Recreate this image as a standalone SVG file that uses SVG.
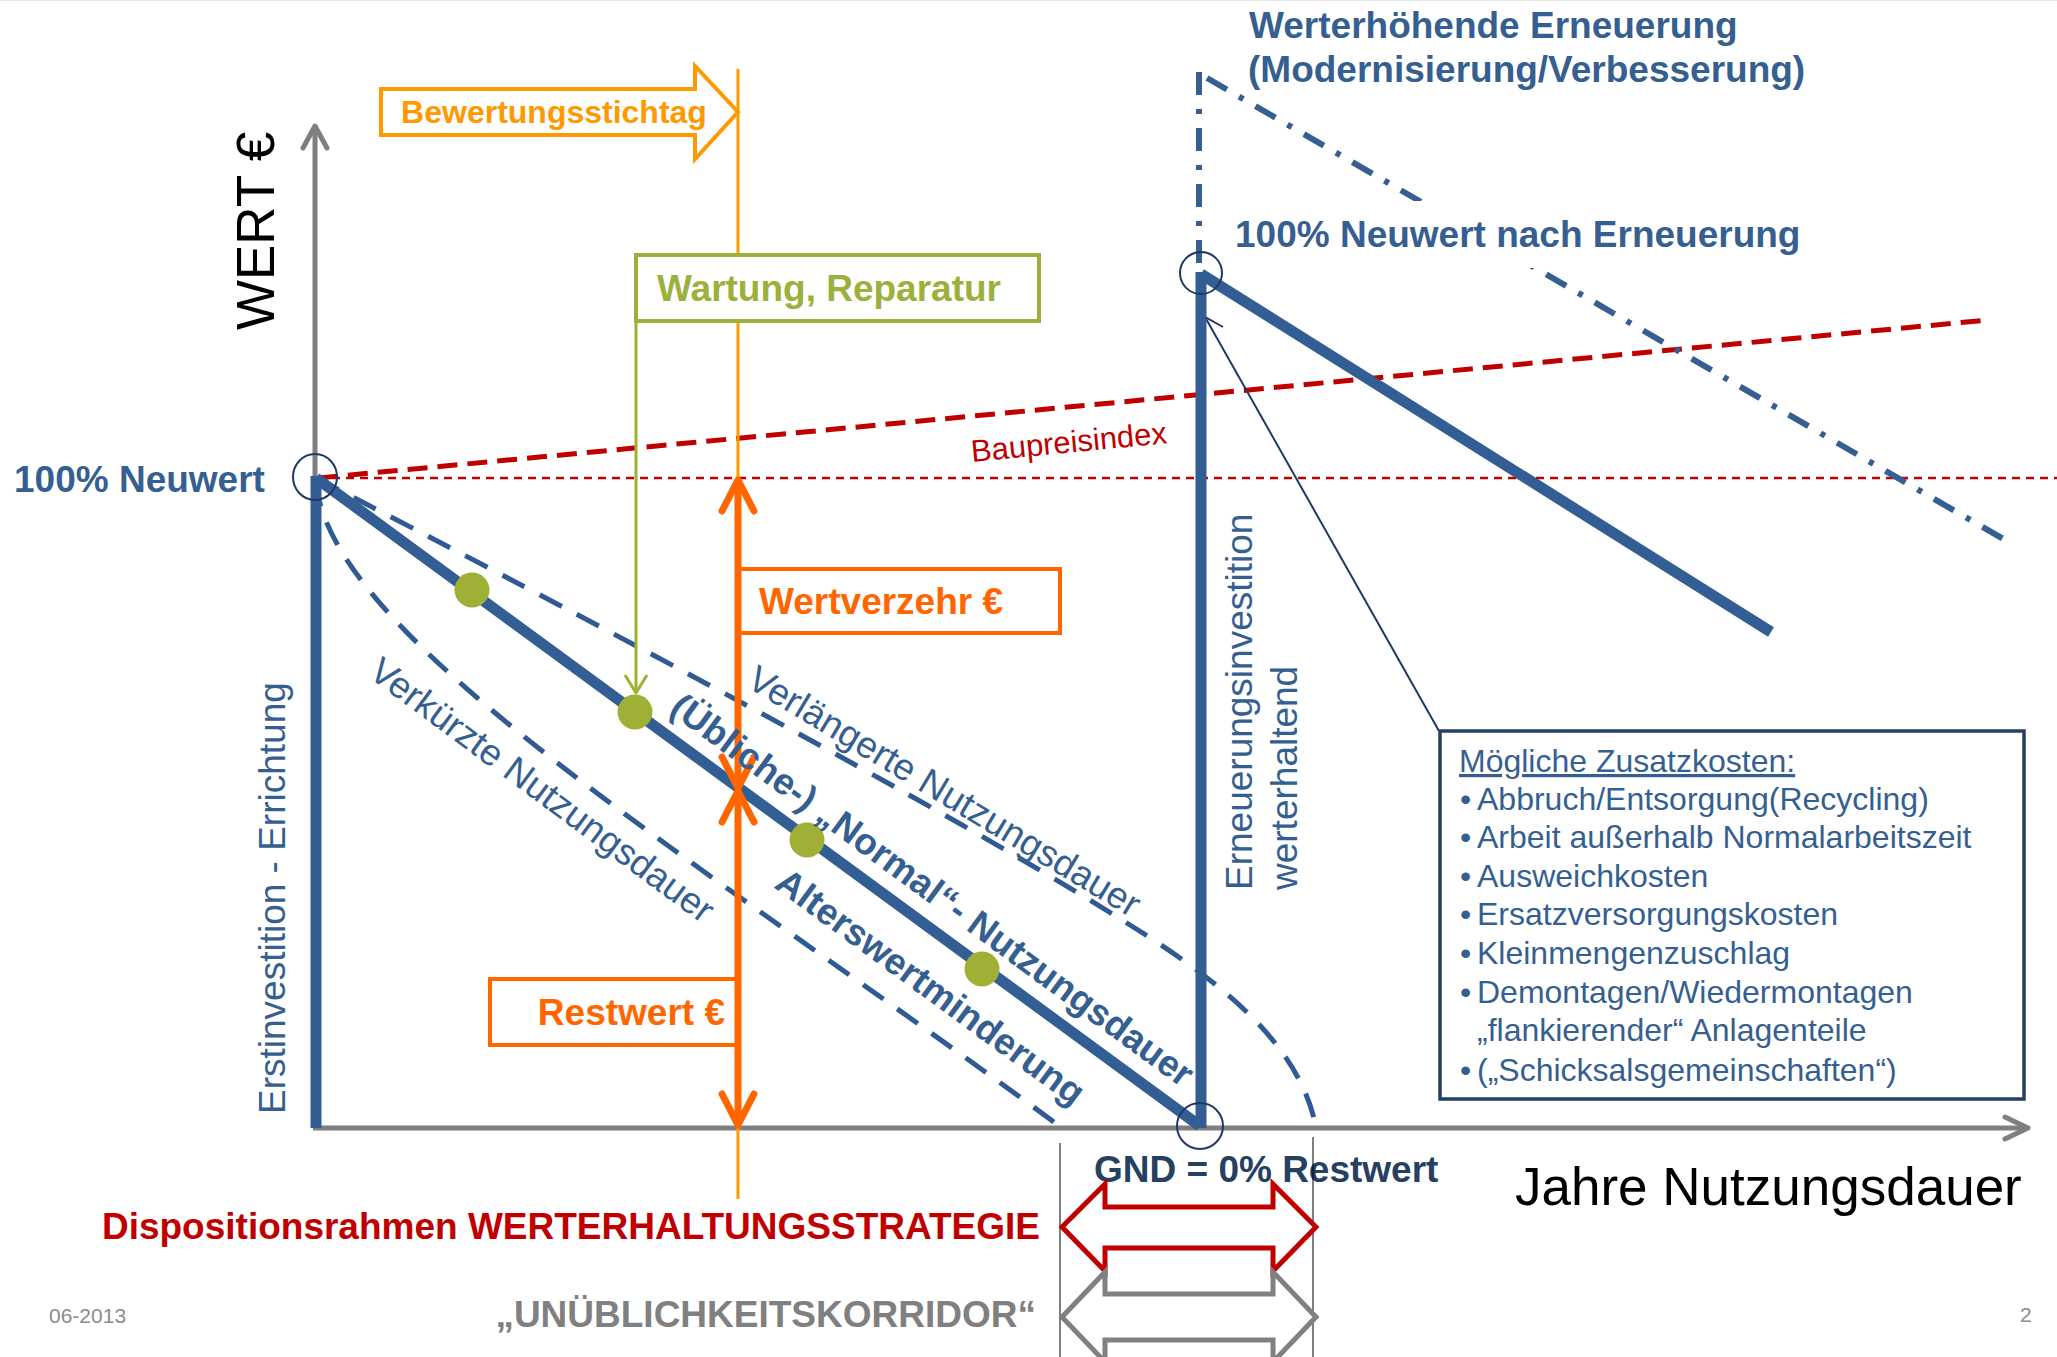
<svg xmlns="http://www.w3.org/2000/svg" width="2057" height="1357" viewBox="0 0 2057 1357">
<defs>
<style>
text{font-family:"Liberation Sans",Arial,sans-serif}
.b{font-weight:bold}
.blue{fill:#365F91}
.t37{font-size:37px}
.axis{stroke:#7F7F7F;stroke-width:5;fill:none}
.ah{fill:none;stroke-linecap:round;stroke-linejoin:round}
.bl{stroke:#335E93;fill:none;stroke-width:11}
.dash{stroke:#2F5A94;fill:none;stroke-width:5;stroke-dasharray:25 17}
.dd{stroke:#365F91;fill:none;stroke-width:6;stroke-dasharray:23 14 5 14}
.ring{stroke:#1F3864;stroke-width:2;fill:none}
.dot{fill:#A0B036}
.or{stroke:#FF6600;stroke-width:7;fill:none;stroke-linecap:round;stroke-linejoin:round}
.box{font-size:32px;fill:#365F91}
</style>
</defs>
<rect width="2057" height="1357" fill="#ffffff"/>
<line x1="0" y1="0.5" x2="2057" y2="0.5" stroke="#E6E6E6" stroke-width="1"/>

<g id="axes">
<path class="axis" d="M315,1128 V128"/>
<path class="axis ah" d="M303,148 L315,126 L327,148"/>
<path class="axis" d="M313,1128 H2026"/>
<path class="axis ah" d="M2005,1117 L2028,1128 L2005,1139"/>
</g>

<g id="baupreisindex">
<path d="M318,478 L1988,320" stroke="#C00000" stroke-width="5" stroke-dasharray="20 10" fill="none"/>
<path d="M318,478 H2057" stroke="#C00000" stroke-width="2.5" stroke-dasharray="8 6" fill="none"/>
<text transform="translate(972,462) rotate(-5.5)" font-size="31" fill="#C00000">Baupreisindex</text>
</g>

<g id="stichtag">
<path d="M738,69 V1199" stroke="#FF9900" stroke-width="3"/>
<polygon points="381,89 695,89 695,66 738,112 695,159 695,135 381,135" fill="#ffffff" stroke="#FF9900" stroke-width="4"/>
<text x="554" y="123" text-anchor="middle" class="b" font-size="32" fill="#FF9900">Bewertungsstichtag</text>
</g>

<g id="wartung">
<rect x="636" y="255" width="403" height="66" fill="#ffffff" stroke="#9BB13B" stroke-width="4"/>
<text x="657" y="301" class="b t37" fill="#9BB13B">Wartung, Reparatur</text>
</g>

<g id="connectors">
<path class="dash" d="M316,478 Q900,780 1130,925 C1210,975 1300,1040 1316,1128"/>
<path class="dash" d="M316,482 C330,640 700,860 1062,1128"/>
<path d="M636,321 V692" stroke="#9DB135" stroke-width="3" fill="none"/>
<path d="M625,675 L636,693 L647,675" stroke="#9DB135" stroke-width="3" fill="none" stroke-linejoin="round"/>
<path class="dd" d="M1199,72 V270"/>
<path class="dd" d="M1207,78 L2005,540"/>
<path d="M1439,731 L1205,317" stroke="#1F3864" stroke-width="2" fill="none"/>
<path d="M1223,327 L1205,317 L1205,337" stroke="#1F3864" stroke-width="2" fill="none"/>
</g>

<g id="nutzung">
<path class="bl" d="M316,478 L1200,1126"/>
<path class="bl" d="M316,476 V1128" stroke-width="12" stroke="#2F5A96"/>
<path class="bl" d="M1201,272 V1128" stroke="#2F5A96"/>
<path class="bl" d="M1201,274 L1771,632"/>
</g>

<g id="neuwert-erneuerung">
<rect x="1226" y="201" width="590" height="67" fill="#ffffff"/>
<text x="1235" y="247" class="b t37 blue">100% Neuwert nach Erneuerung</text>
</g>

<g id="rings">
<ellipse class="ring" cx="315" cy="477" rx="22" ry="23"/>
<circle class="ring" cx="1201" cy="273" r="21"/>
<circle class="ring" cx="1200" cy="1126" r="23"/>
</g>

<g id="wertverzehr">
<rect x="739" y="569" width="321" height="64" fill="#ffffff" stroke="#FF6600" stroke-width="4"/>
<text x="759" y="614" class="b t37" fill="#FF6600">Wertverzehr €</text>
</g>
<g id="restwert">
<rect x="490" y="979" width="249" height="66" fill="#ffffff" stroke="#FF6600" stroke-width="4"/>
<text x="725" y="1025" text-anchor="end" class="b t37" fill="#FF6600">Restwert €</text>
</g>
<g id="wert-pfeile">
<path class="or" d="M738,482 V786"/>
<path class="or" d="M738,792 V1124"/>
<path class="or" d="M722,511 L738,480 L754,511"/>
<path class="or" d="M722,757 L738,788 L754,757"/>
<path class="or" d="M722,822 L738,791 L754,822"/>
<path class="or" d="M722,1094 L738,1125 L754,1094"/>
</g>

<g id="punkte">
<circle class="dot" cx="472" cy="590" r="17.5"/>
<circle class="dot" cx="635" cy="712" r="17.5"/>
<circle class="dot" cx="807" cy="840" r="17.5"/>
<circle class="dot" cx="982" cy="969" r="17.5"/>
</g>

<g id="labels">
<text transform="translate(668,712) rotate(36.2)" class="b t37 blue">(Übliche-) „Normal“- Nutzungsdauer</text>
<text transform="translate(773,887) rotate(36.2)" class="b t37 blue">Alterswertminderung</text>
<text transform="translate(745,686) rotate(31)" class="t37 blue">Verlängerte Nutzungsdauer</text>
<text transform="translate(367,676) rotate(36.5)" class="t37 blue">Verkürzte Nutzungsdauer</text>
<text transform="translate(285,1114) rotate(-90)" class="t37 blue">Erstinvestition - Errichtung</text>
<text transform="translate(1252,890) rotate(-90)" class="t37 blue">Erneuerungsinvestition</text>
<text transform="translate(1297,890) rotate(-90)" class="t37 blue">werterhaltend</text>
<text transform="translate(274,330) rotate(-90)" font-size="53" fill="#000000">WERT €</text>
<text x="14" y="492" class="b t37 blue">100% Neuwert</text>
<text x="1249" y="38" class="b t37 blue">Werterhöhende Erneuerung</text>
<text x="1248" y="82" class="b t37 blue">(Modernisierung/Verbesserung)</text>
<text x="1094" y="1182" class="b t37" fill="#254061">GND = 0% Restwert</text>
<text x="1515" y="1205" font-size="53" fill="#000000">Jahre Nutzungsdauer</text>
</g>

<g id="zusatzkosten">
<rect x="1440" y="731" width="584" height="368" fill="#ffffff" stroke="#243F60" stroke-width="3.5"/>
<text x="1459" y="772" class="box" text-decoration="underline">Mögliche Zusatzkosten:</text>
<text x="1460" y="810" class="box">•</text><text x="1477" y="810" class="box">Abbruch/Entsorgung(Recycling)</text>
<text x="1460" y="848" class="box">•</text><text x="1477" y="848" class="box">Arbeit außerhalb Normalarbeitszeit</text>
<text x="1460" y="887" class="box">•</text><text x="1477" y="887" class="box">Ausweichkosten</text>
<text x="1460" y="925" class="box">•</text><text x="1477" y="925" class="box">Ersatzversorgungskosten</text>
<text x="1460" y="964" class="box">•</text><text x="1477" y="964" class="box">Kleinmengenzuschlag</text>
<text x="1460" y="1003" class="box">•</text><text x="1477" y="1003" class="box">Demontagen/Wiedermontagen</text>
<text x="1477" y="1041" class="box">„flankierender“ Anlagenteile</text>
<text x="1460" y="1081" class="box">•</text><text x="1477" y="1081" class="box">(„Schicksalsgemeinschaften“)</text>
</g>

<g id="korridor">
<path d="M1060,1143 V1357 M1313,1137 V1357" stroke="#000000" stroke-width="1" fill="none"/>
<polygon points="1062,1227 1105,1184 1105,1207 1273,1207 1273,1184 1316,1227 1273,1271 1273,1248 1105,1248 1105,1271" fill="#ffffff" stroke="#C00000" stroke-width="5"/>
<polygon points="1062,1317 1105,1272 1105,1294 1273,1294 1273,1272 1316,1317 1273,1362 1273,1340 1105,1340 1105,1362" fill="#ffffff" stroke="#808080" stroke-width="5"/>
<text x="1040" y="1239" text-anchor="end" class="b t37" fill="#C00000">Dispositionsrahmen WERTERHALTUNGSSTRATEGIE</text>
<text x="1036" y="1327" text-anchor="end" class="b t37" fill="#808080">„UNÜBLICHKEITSKORRIDOR“</text>
</g>

<g id="footer">
<text x="49" y="1323" font-size="21" fill="#8C8C8C">06-2013</text>
<text x="2020" y="1322" font-size="21" fill="#8C8C8C">2</text>
</g>
</svg>
